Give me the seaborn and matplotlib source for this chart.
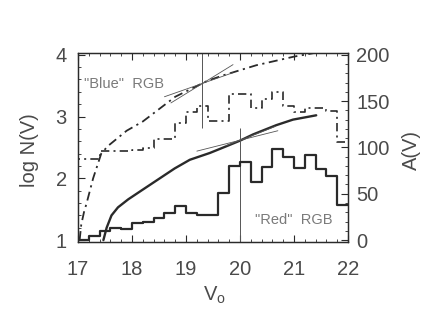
import numpy as np
import pandas as pd
import matplotlib
matplotlib.use("Agg")
import matplotlib.pyplot as plt
from matplotlib.ticker import MultipleLocator
import seaborn as sns

# ---- data ----
bin_edges = [17.0, 17.2, 17.4, 17.6, 17.8, 18.0, 18.2, 18.4, 18.6, 18.8, 19.0,
             19.2, 19.4, 19.6, 19.8, 20.0, 20.2, 20.4, 20.6, 20.8, 21.0, 21.2,
             21.4, 21.6, 21.8, 22.0]
red_counts = [0, 4, 10, 13, 12, 18, 20, 24, 29, 37, 29, 27, 27, 51, 80, 84,
              63, 79, 98, 90, 78, 92, 77, 69, 38]
blue_counts = [88, 88, 96, 96, 96, 97, 99, 109, 109, 126, 138, 145, 129, 129,
               158, 158, 143, 152, 160, 145, 138, 143, 143, 139, 106]

red_cum_v = [17.47, 17.53, 17.62, 17.74, 17.93, 18.17, 18.48, 18.79, 19.07,
             19.44, 19.75, 20.00, 20.24, 20.67, 20.98, 21.41]
red_cum_logn = [1.0, 1.2, 1.40, 1.53, 1.66, 1.80, 1.98, 2.16, 2.30, 2.41,
                2.52, 2.61, 2.71, 2.86, 2.95, 3.02]

blue_cum_v = [17.03, 17.06, 17.11, 17.16, 17.28, 17.43, 17.55, 17.69, 17.90,
              18.20, 18.50, 18.80, 19.10, 19.40, 19.70, 20.00, 20.30, 20.60,
              21.00, 21.45]
blue_cum_logn = [1.0, 1.25, 1.45, 1.6, 2.0, 2.40, 2.52, 2.62, 2.77, 2.92,
                 3.12, 3.32, 3.45, 3.58, 3.67, 3.75, 3.83, 3.89, 3.97, 4.04]

# tangent segments (V endpoints, logN endpoints)
blue_tan1_v, blue_tan1_logn = [18.60, 19.87], [3.32, 3.71]
blue_tan2_v, blue_tan2_logn = [18.72, 19.87], [3.22, 3.84]
red_tan1_v, red_tan1_logn = [19.20, 20.70], [2.44, 2.77]
red_tan2_v, red_tan2_logn = [19.75, 20.65], [2.53, 2.84]

blue_cut_v = 19.30
red_cut_v = 19.99
cut_split_logn = 2.82

x_ticks = [17, 18, 19, 20, 21, 22]
left_ticks = [1, 2, 3, 4]
right_ticks = [0, 50, 100, 150, 200]

# ---- figure ----
sns.set_theme(style="ticks")
plt.rcParams['font.family'] = ['Liberation Sans', 'DejaVu Sans']
plt.rcParams['mathtext.fontset'] = 'custom'
plt.rcParams['mathtext.rm'] = 'Liberation Sans'
ink = "#2a2a2a"
txt = "#4a4a4a"

fig = plt.figure(figsize=(4.42, 3.13), dpi=100)
ax = fig.add_axes([0.1765, 0.227, 0.611, 0.604])
ax2 = ax.twinx()

# histograms on A(V) axis
red_x = bin_edges
red_y = red_counts + [red_counts[-1]]
blue_x = [bin_edges[0]] + bin_edges
blue_y = [0] + blue_counts + [blue_counts[-1]]
sns.lineplot(x=red_x, y=red_y, ax=ax2, color=ink, lw=1.6,
             drawstyle="steps-post", estimator=None, sort=False)
sns.lineplot(x=blue_x, y=blue_y, ax=ax2, color=ink, lw=1.2,
             drawstyle="steps-post", estimator=None, sort=False,
             linestyle=(0, (5, 2.5, 1.2, 2.5)))

# cumulative curves on log N axis
sns.lineplot(x=red_cum_v, y=red_cum_logn, ax=ax, color=ink, lw=1.7,
             estimator=None, sort=False)
sns.lineplot(x=blue_cum_v, y=blue_cum_logn, ax=ax, color=ink, lw=1.3,
             estimator=None, sort=False, linestyle=(0, (5, 2.5, 1.2, 2.5)))

for tv, tl in [(blue_tan1_v, blue_tan1_logn), (blue_tan2_v, blue_tan2_logn),
               (red_tan1_v, red_tan1_logn), (red_tan2_v, red_tan2_logn)]:
    sns.lineplot(x=tv, y=tl, ax=ax, color="#555555", lw=0.6,
                 estimator=None, sort=False)

ax.vlines(blue_cut_v, cut_split_logn, 4.1, color="#555555", lw=0.7)
ax.vlines(red_cut_v, 0.9, cut_split_logn, color="#555555", lw=0.7)

ax.text(17.85, 3.52, '"Blue"  RGB', ha="center", va="center",
        fontsize=10.5, color="#7a7a7a")
ax.text(21.0, 1.32, '"Red"  RGB', ha="center", va="center",
        fontsize=10.5, color="#7a7a7a")

ax.set_xlim(17, 22)
ax.set_ylim(0.97, 4.03)
ax2.set_ylim(-2, 202)

ax.set_xticks(x_ticks)
ax.set_xticklabels([str(t) for t in x_ticks])
ax.set_yticks(left_ticks)
ax.set_yticklabels([str(t) for t in left_ticks])
ax2.set_yticks(right_ticks)
ax2.set_yticklabels([str(t) for t in right_ticks])
ax.xaxis.set_minor_locator(MultipleLocator(0.2))
ax.yaxis.set_minor_locator(MultipleLocator(0.2))
ax2.yaxis.set_minor_locator(MultipleLocator(10))

ax.tick_params(axis="x", which="both", direction="in", top=True, bottom=True,
               color=ink, labelsize=14.5, labelcolor=txt, pad=13)
ax.tick_params(axis="x", which="major", length=5, width=0.8)
ax.tick_params(axis="x", which="minor", length=2.5, width=0.6)
ax.tick_params(axis="y", which="both", direction="in", left=True, right=False,
               color=ink, labelsize=14.5, labelcolor=txt, pad=8)
ax.tick_params(axis="y", which="major", length=5, width=0.8)
ax.tick_params(axis="y", which="minor", length=2.5, width=0.6)
ax2.tick_params(axis="y", which="both", direction="in", right=True, left=False,
                color=ink, labelsize=14.5, labelcolor=txt, pad=6)
ax2.tick_params(axis="y", which="major", length=5, width=0.8)
ax2.tick_params(axis="y", which="minor", length=2.5, width=0.6)

for a in (ax, ax2):
    for s in a.spines.values():
        s.set_visible(True)
        s.set_color(ink)
        s.set_linewidth(0.9)

ax.set_xlabel("V$_{\\mathrm{o}}$", fontsize=14.5, color=txt)
ax.set_ylabel("log N(V)", fontsize=14.5, color=txt)
ax2.set_ylabel("A(V)", fontsize=14.5, color=txt)
ax.xaxis.set_label_coords(0.507, -0.225)
ax.yaxis.set_label_coords(-0.145, 0.487)
ax2.yaxis.set_label_coords(1.20, 0.487)

fig.savefig("out.png", dpi=100, facecolor="white")
